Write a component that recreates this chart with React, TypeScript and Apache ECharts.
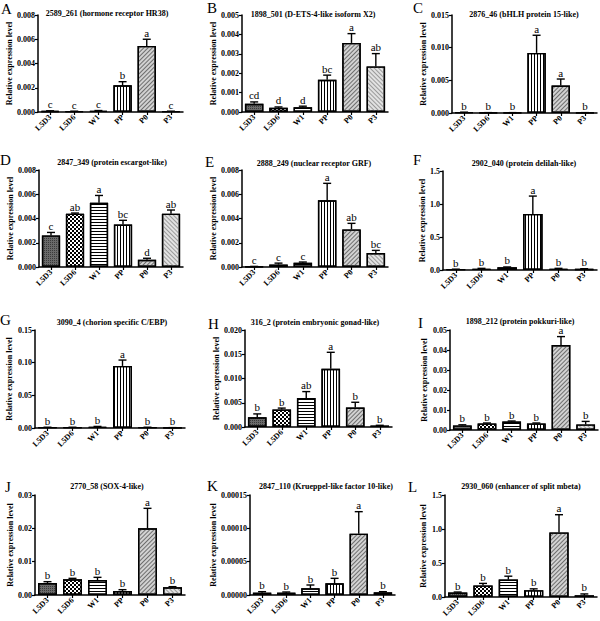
import { useEffect, useRef } from "react";
import * as echarts from "echarts";

const categories = ["L5D3", "L5D6", "W1", "PP", "P0", "P3"];
const panelLetters = ["A", "B", "C", "D", "E", "F", "G", "H", "I", "J", "K", "L"];
const panelTitles = [
  "2589_261 (hormone receptor HR38)",
  "1898_501 (D-ETS-4-like isoform X2)",
  "2876_46 (bHLH protein 15-like)",
  "2847_349 (protein escargot-like)",
  "2888_249 (nuclear receptor GRF)",
  "2902_040 (protein delilah-like)",
  "3090_4 (chorion specific C/EBP)",
  "316_2 (protein embryonic gonad-like)",
  "1898_212 (protein pokkuri-like)",
  "2770_58 (SOX-4-like)",
  "2847_110 (Krueppel-like factor 10-like)",
  "2930_060 (enhancer of split mbeta)",
];
const yMax = [0.008, 0.005, 0.015, 0.008, 0.008, 1.5, 0.15, 0.02, 0.05, 0.03, 0.00015, 1.5];
const yStep = [0.002, 0.001, 0.005, 0.002, 0.002, 0.5, 0.05, 0.005, 0.01, 0.01, 0.00005, 0.5];
const yDigits = [3, 3, 3, 3, 3, 1, 2, 3, 2, 2, 5, 1];

const meanA = [0.00008, 0.00006, 0.0001, 0.0022, 0.00545, 0.00006];
const errA = [0.00002, 0.00001, 0.00002, 0.0003, 0.00055, 0.00001];
const sigA = ["c", "c", "c", "b", "a", "c"];

const meanB = [0.00042, 0.00022, 0.00024, 0.00166, 0.00356, 0.00235];
const errB = [0.0001, 0.00004, 0.00006, 0.00024, 0.00048, 0.00066];
const sigB = ["cd", "d", "d", "bc", "a", "ab"];

const meanC = [0.0001, 0.00005, 0.00005, 0.0092, 0.0042, 0.00005];
const errC = [0.00003, 0.00001, 0.00001, 0.0027, 0.001, 0.00001];
const sigC = ["b", "b", "b", "a", "a", "b"];

const meanD = [0.0026, 0.0044, 0.0053, 0.0035, 0.0006, 0.0044];
const errD = [0.00025, 0.00005, 0.0006, 0.00035, 0.00012, 0.0003];
const sigD = ["c", "ab", "a", "bc", "d", "ab"];

const meanE = [0.00004, 0.0002, 0.00035, 0.0055, 0.0031, 0.00115];
const errE = [0.00001, 0.00012, 0.00006, 0.0014, 0.0005, 0.00022];
const sigE = ["c", "c", "c", "a", "ab", "bc"];

const meanF = [0.01, 0.02, 0.04, 0.85, 0.02, 0.015];
const errF = [0.003, 0.005, 0.006, 0.27, 0.005, 0.005];
const sigF = ["b", "b", "b", "a", "b", "b"];

const meanG = [0.001, 0.001, 0.002, 0.095, 0.001, 0.0005];
const errG = [0.0002, 0.0002, 0.0004, 0.009, 0.0002, 0.0001];
const sigG = ["b", "b", "b", "a", "b", "b"];

const meanH = [0.002, 0.0036, 0.006, 0.012, 0.004, 0.0003];
const errH = [0.0007, 0.0003, 0.0013, 0.0034, 0.0011, 0.00005];
const sigH = ["b", "b", "ab", "a", "b", "b"];

const meanI = [0.0023, 0.0033, 0.0042, 0.0033, 0.0425, 0.0028];
const errI = [0.0003, 0.0002, 0.0003, 0.0002, 0.0042, 0.0015];
const sigI = ["b", "b", "b", "b", "a", "b"];

const meanJ = [0.0036, 0.0047, 0.0045, 0.0012, 0.02, 0.0023];
const errJ = [0.0004, 0.0003, 0.0008, 0.0004, 0.006, 0.0002];
const sigJ = ["b", "b", "b", "b", "a", "b"];

const meanK = [0.0000035, 0.0000035, 0.00001, 0.0000175, 0.000092, 0.000004];
const errK = [0.0000015, 0.000001, 0.000005, 0.0000075, 0.000033, 0.000001];
const sigK = ["b", "b", "b", "b", "a", "b"];

const meanL = [0.065, 0.17, 0.256, 0.1, 0.95, 0.025];
const errL = [0.008, 0.03, 0.05, 0.02, 0.26, 0.02];
const sigL = ["b", "b", "b", "b", "a", "b"];

const means = [meanA, meanB, meanC, meanD, meanE, meanF, meanG, meanH, meanI, meanJ, meanK, meanL];
const errs = [errA, errB, errC, errD, errE, errF, errG, errH, errI, errJ, errK, errL];
const sigs = [sigA, sigB, sigC, sigD, sigE, sigF, sigG, sigH, sigI, sigJ, sigK, sigL];

// layout: grid boxes, y-name gaps, title & letter positions
const grids = [
  { left: 38, top: 15, width: 145, height: 97, gap: 23 },
  { left: 242, top: 15, width: 146, height: 97, gap: 20 },
  { left: 452, top: 15, width: 145, height: 98, gap: 25 },
  { left: 39, top: 170, width: 144, height: 97, gap: 24 },
  { left: 242, top: 170, width: 146, height: 97, gap: 21 },
  { left: 443, top: 171, width: 154, height: 99, gap: 15 },
  { left: 35, top: 330, width: 150, height: 98, gap: 22 },
  { left: 245, top: 330, width: 147, height: 97, gap: 23 },
  { left: 450, top: 330, width: 148, height: 100, gap: 22 },
  { left: 35, top: 495, width: 150, height: 100, gap: 20 },
  { left: 250, top: 495, width: 145, height: 100, gap: 32 },
  { left: 445, top: 495, width: 152, height: 102, gap: 18 },
];
const titlePos = [
  [107, 13], [313, 14], [524, 14],
  [112, 162], [314, 163], [524, 163],
  [112, 322], [315, 322], [520, 321],
  [107, 486], [326, 486], [521, 486],
];
const letterPos = [
  [1, 9], [207, 8], [413, 8],
  [0, 160], [205, 162], [413, 160],
  [0, 320], [208, 324], [418, 323],
  [5, 487], [207, 486], [408, 487],
];

const SERIF = '"Liberation Serif", "DejaVu Serif", serif';

const lineDecal = (rot: number, color: string, on = 1, off = 2) => ({
  symbol: "rect",
  symbolSize: 1,
  dashArrayX: [on, off],
  dashArrayY: [4, 0],
  rotation: rot,
  color,
  backgroundColor: "transparent",
});

const fills = ["#6a6a6a", "#ffffff", "#ffffff", "#ffffff", "#d2d2d2", "#e2e2e2"];
const decals: any[] = [
  {
    symbol: "rect",
    symbolSize: 1,
    dashArrayX: [1, 1],
    dashArrayY: [1, 1],
    color: "#3a3a3a",
    backgroundColor: "transparent",
  },
  {
    symbol: "rect",
    symbolSize: 1,
    dashArrayX: [
      [2, 2],
      [0, 2, 2, 0],
    ],
    dashArrayY: [2, 0],
    color: "#000",
    backgroundColor: "transparent",
  },
  lineDecal(Math.PI / 2, "#000", 1, 2),
  lineDecal(0, "#000", 1, 2),
  lineDecal(Math.PI / 4, "#6e6e6e", 1, 2),
  lineDecal(-Math.PI / 4, "#9a9a9a", 1, 1.5),
];

function buildOption() {
  const grid: any[] = [];
  const xAxis: any[] = [];
  const yAxis: any[] = [];
  const series: any[] = [];
  const graphic: any[] = [];

  for (let p = 0; p < 12; p++) {
    const g = grids[p];
    grid.push({ left: g.left, top: g.top, width: g.width, height: g.height, outerBoundsMode: "none", containLabel: false });
    xAxis.push({
      type: "category",
      gridIndex: p,
      data: categories,
      axisLine: { show: true, lineStyle: { color: "#000", width: 1.5 } },
      axisTick: { show: true, alignWithLabel: true, length: 3, lineStyle: { color: "#000", width: 1.2 } },
      axisLabel: {
        interval: 0,
        rotate: 45,
        margin: 4,
        color: "#000",
        fontFamily: SERIF,
        fontWeight: "bold",
        fontSize: 8,
        hideOverlap: false,
      },
      splitLine: { show: false },
    });
    const digits = yDigits[p];
    yAxis.push({
      type: "value",
      gridIndex: p,
      min: 0,
      max: yMax[p],
      interval: yStep[p],
      name: "Relative expression level",
      nameLocation: "middle",
      nameGap: g.gap,
      nameTextStyle: { color: "#000", fontFamily: SERIF, fontWeight: "bold", fontSize: 8 },
      axisLine: { show: true, lineStyle: { color: "#000", width: 1.5 } },
      axisTick: { show: true, length: 3, lineStyle: { color: "#000", width: 1.2 } },
      axisLabel: {
        margin: 3,
        color: "#000",
        fontFamily: SERIF,
        fontWeight: "bold",
        fontSize: 8,
        formatter: (v: number) => v.toFixed(digits),
      },
      splitLine: { show: false },
    });
    const m = means[p];
    const e = errs[p];
    const s = sigs[p];
    series.push({
      type: "bar",
      xAxisIndex: p,
      yAxisIndex: p,
      barWidth: "76%",
      data: m.map((v, i) => ({
        value: v,
        itemStyle: { color: fills[i], borderColor: "#000", borderWidth: 1.4, decal: decals[i] },
      })),
      z: 2,
    });
    series.push({
      type: "custom",
      xAxisIndex: p,
      yAxisIndex: p,
      z: 5,
      data: m.map((v, i) => [i, v, e[i]]),
      encode: { x: 0, y: 1 },
      renderItem: (params: any, api: any) => {
        const x = api.value(0);
        const v = api.value(1);
        const er = api.value(2);
        const p0 = api.coord([x, v]);
        const p1 = api.coord([x, v + er]);
        const cap = 4;
        return {
          type: "group",
          children: [
            {
              type: "line",
              shape: { x1: p0[0], y1: p0[1], x2: p1[0], y2: p1[1] },
              style: { stroke: "#000", lineWidth: 1.4 },
            },
            {
              type: "line",
              shape: { x1: p1[0] - cap, y1: p1[1], x2: p1[0] + cap, y2: p1[1] },
              style: { stroke: "#000", lineWidth: 1.4 },
            },
            {
              type: "text",
              x: p1[0],
              y: p1[1] - 1,
              style: {
                text: s[params.dataIndex],
                textAlign: "center",
                textVerticalAlign: "bottom",
                fill: "#000",
                font: `11px ${SERIF}`,
              },
            },
          ],
        };
      },
    });
    graphic.push({
      type: "text",
      x: titlePos[p][0],
      y: titlePos[p][1],
      style: {
        text: panelTitles[p],
        textAlign: "center",
        textVerticalAlign: "middle",
        fill: "#000",
        font: `bold 8px ${SERIF}`,
      },
    });
    graphic.push({
      type: "text",
      x: letterPos[p][0],
      y: letterPos[p][1],
      style: {
        text: panelLetters[p],
        textAlign: "left",
        textVerticalAlign: "middle",
        fill: "#000",
        font: `15px ${SERIF}`,
      },
    });
  }

  return {
    animation: false,
    backgroundColor: "#ffffff",
    grid,
    xAxis,
    yAxis,
    series,
    graphic,
  };
}

export default function App() {
  const ref = useRef<HTMLDivElement>(null);
  useEffect(() => {
    const chart = echarts.init(ref.current!, null, { renderer: "svg" });
    chart.setOption(buildOption() as any);
    return () => chart.dispose();
  }, []);
  return (
    <div
      ref={ref}
      style={{ position: "fixed", left: 0, top: 0, width: 600, height: 621, background: "#fff" }}
    />
  );
}
